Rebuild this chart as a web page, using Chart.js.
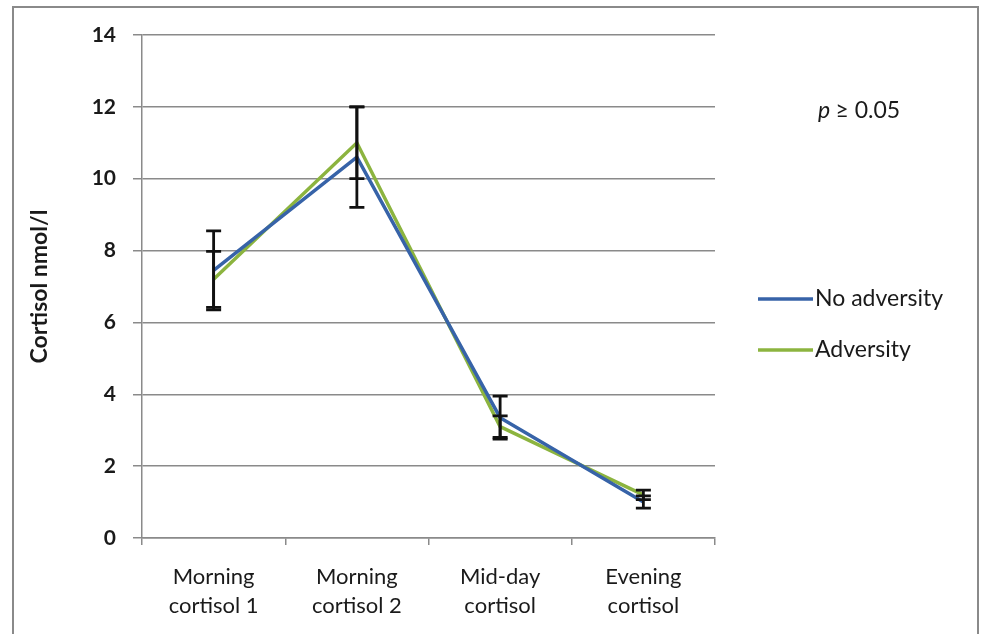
<!DOCTYPE html>
<html>
<head>
<meta charset="utf-8">
<script src="https://cdn.jsdelivr.net/npm/chart.js@4/dist/chart.umd.min.js"></script>
<style>
  html, body { margin: 0; padding: 0; background: #ffffff; }
  #wrap { width: 982px; height: 634px; position: relative; }
</style>
</head>
<body>
<div id="wrap"><canvas id="c" width="982" height="634"></canvas></div>
<script>
// Sampling times
const categories = [['Morning', 'cortisol 1'], ['Morning', 'cortisol 2'], ['Mid-day', 'cortisol'], ['Evening', 'cortisol']];

// Mean cortisol (nmol/l) per group
const noAdversity = [7.45, 10.6, 3.35, 1.0];
const adversity = [7.2, 11.0, 3.1, 1.2];

// Error bar half-widths (nmol/l)
const noAdversityErr = [1.1, 1.4, 0.6, 0.17];
const adversityErr = [0.78, 1.0, 0.3, 0.13];

const yTicks = [0, 2, 4, 6, 8, 10, 12, 14];
const seriesNames = ['No adversity', 'Adversity'];
const seriesColors = ['#3763a8', '#8cb43f'];
const noteText = '≥ 0.05';

const FONT = 'Lato, "Open Sans", sans-serif';

const errorBars = {
  id: 'errorBars',
  afterDatasetsDraw(chart) {
    const ctx = chart.ctx;
    const x = chart.scales.x, y = chart.scales.y;
    ctx.save();
    ctx.strokeStyle = '#111';
    ctx.lineWidth = 2.8;
    chart.data.datasets.forEach(ds => {
      ds.data.forEach((v, i) => {
        const e = ds.errors[i];
        const px = x.getPixelForValue(i);
        const top = y.getPixelForValue(v + e);
        const bot = y.getPixelForValue(v - e);
        ctx.beginPath();
        ctx.moveTo(px, top); ctx.lineTo(px, bot);
        ctx.moveTo(px - 7.5, top); ctx.lineTo(px + 7.5, top);
        ctx.moveTo(px - 7.5, bot); ctx.lineTo(px + 7.5, bot);
        ctx.stroke();
      });
    });
    ctx.restore();
  }
};

const decor = {
  id: 'decor',
  afterDraw(chart) {
    const ctx = chart.ctx;
    ctx.save();
    // outer frame
    ctx.strokeStyle = '#8a8a8a';
    ctx.lineWidth = 2;
    ctx.strokeRect(13, 7, 965, 640);
    // legend
    const area = chart.chartArea;
    const lx = area.right + 43;
    const rows = [299, 350];
    ctx.font = '23px ' + FONT;
    ctx.textBaseline = 'middle';
    ctx.textAlign = 'left';
    seriesNames.forEach((name, i) => {
      ctx.strokeStyle = seriesColors[i];
      ctx.lineWidth = 3.5;
      ctx.beginPath();
      ctx.moveTo(lx, rows[i]); ctx.lineTo(lx + 55, rows[i]);
      ctx.stroke();
      ctx.fillStyle = '#1a1a1a';
      ctx.fillText(name, lx + 57, rows[i]);
    });
    // significance note
    ctx.font = 'italic 23px ' + FONT;
    ctx.fillStyle = '#1a1a1a';
    ctx.fillText('p', 818, 111);
    const pw = ctx.measureText('p ').width;
    ctx.font = '23px ' + FONT;
    ctx.fillText(noteText, 818 + pw, 111);
    ctx.restore();
  }
};

new Chart(document.getElementById('c'), {
  type: 'line',
  data: {
    labels: categories,
    datasets: [
      { label: seriesNames[0], data: noAdversity, errors: noAdversityErr,
        borderColor: seriesColors[0], borderWidth: 3.5, pointRadius: 0, tension: 0 },
      { label: seriesNames[1], data: adversity, errors: adversityErr,
        borderColor: seriesColors[1], borderWidth: 3.5, pointRadius: 0, tension: 0 }
    ]
  },
  options: {
    responsive: false,
    animation: false,
    layout: { padding: { left: 0, right: 267, top: 35, bottom: 0 } },
    plugins: { legend: { display: false }, tooltip: { enabled: false } },
    scales: {
      x: {
        offset: true,
        grid: { offset: true, drawOnChartArea: false, drawTicks: true, tickLength: 7, color: '#8a8a8a', lineWidth: 1.5 },
        border: { color: '#8a8a8a', width: 1.5 },
        ticks: { color: '#1a1a1a', font: { family: FONT, size: 22, lineHeight: 1.3 }, padding: 18, maxRotation: 0 },
        afterFit(s) { s.height = 96; }
      },
      y: {
        min: 0, max: 14,
        afterBuildTicks(s) { s.ticks = yTicks.map(v => ({ value: v })); },
        grid: { color: '#8a8a8a', lineWidth: 1.5, tickLength: 9 },
        border: { color: '#8a8a8a', width: 1.5 },
        ticks: { color: '#1a1a1a', font: { family: FONT, size: 21, weight: 'bold' }, padding: 17 },
        title: { display: true, text: 'Cortisol nmol/l', color: '#1a1a1a',
                 font: { family: FONT, size: 23, weight: 'bold' }, padding: { top: 26, bottom: 0 } },
        afterFit(s) { s.width = 142; }
      }
    }
  },
  plugins: [errorBars, decor]
});
</script>
</body>
</html>
